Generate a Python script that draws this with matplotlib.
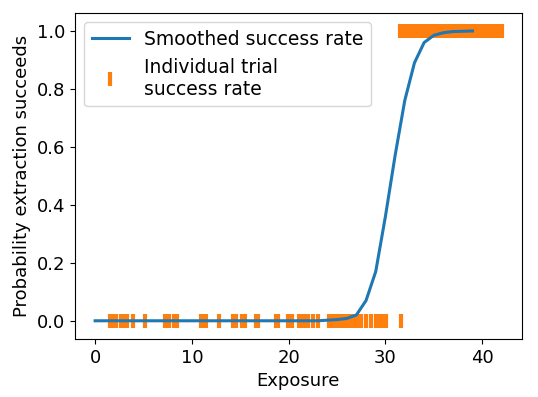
import matplotlib
matplotlib.use("Agg")
from matplotlib import pyplot as plt
import numpy as np

# smoothed curve (exposure 0..39)
curve_x = list(range(0, 40))
curve_y = [0.0] * 24 + [0.002, 0.004, 0.008, 0.02, 0.07, 0.17, 0.36, 0.57,
                        0.76, 0.89, 0.96, 0.985, 0.994, 0.998, 0.999, 1.0]

# individual trials that failed (y=0) and succeeded (y=1)
fail_x = [1.5, 1.8, 2.2, 2.7, 3.0, 3.3, 3.9, 5.2, 7.2, 7.6, 8.2, 8.5,
          10.9, 11.2, 11.5, 12.8, 14.3, 14.6, 15.2, 15.5, 16.6, 16.8,
          18.7, 18.9, 19.9, 20.3, 21.1, 21.3, 21.6, 22.0, 22.5, 23.0,
          24.2, 24.4, 24.7, 25.0, 25.3, 25.6, 25.9, 26.3, 26.6, 27.1,
          27.5, 28.0, 28.5, 29.0, 29.3, 29.6, 30.1, 31.6]
success_x = [31.5, 31.8, 32.1, 32.4, 32.7, 33.0, 33.3, 33.6, 33.9, 34.2,
             34.5, 34.8, 35.1, 35.5, 35.8, 36.1, 36.4, 36.7, 37.0, 37.3,
             37.6, 37.9, 38.2, 38.5, 38.8, 39.1, 39.4, 39.8, 40.1, 40.4,
             40.7, 41.0, 41.3, 41.6, 42.0]

trial_x = fail_x + success_x
trial_y = [0.0] * len(fail_x) + [1.0] * len(success_x)

plt.rcParams['font.size'] = 13
fig, ax = plt.subplots(figsize=(5.38, 3.97), dpi=100)

ax.plot(curve_x, curve_y, color='#1f77b4', linewidth=2.2, zorder=3,
        label='Smoothed success rate')
ax.plot(trial_x, trial_y, linestyle='none', marker='|', markersize=10,
        markeredgewidth=3, color='#ff7f0e', zorder=2,
        label='Individual trial\nsuccess rate')

ax.set_xlabel('Exposure')
ax.set_ylabel('Probability extraction succeeds')
ax.set_xticks([0, 10, 20, 30, 40])
ax.set_ylim(-0.063, 1.063)
ax.legend(loc='upper left', fontsize=13.5)

fig.subplots_adjust(left=0.139, right=0.970, top=0.968, bottom=0.146)
plt.savefig('out.png')
